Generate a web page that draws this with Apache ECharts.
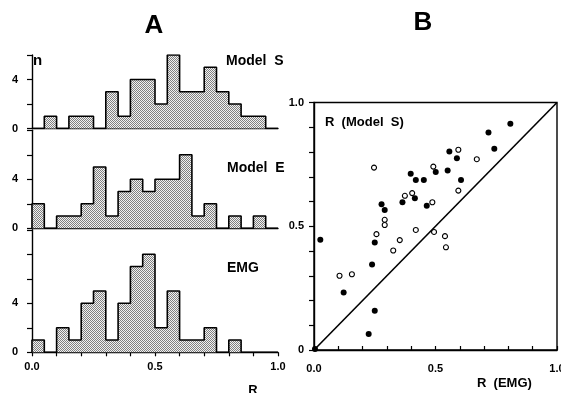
<!DOCTYPE html>
<html>
<head>
<meta charset="utf-8">
<script src="https://cdn.jsdelivr.net/npm/echarts@6/dist/echarts.min.js"></script>
<style>
html, body { margin: 0; padding: 0; background: #fff; }
#chart { width: 561px; height: 393px; }
</style>
</head>
<body>
<div id="chart"></div>
<script>
// histogram counts, bins of 0.05 from 0 to 1
const binWidth = 0.05
const countsModelS = [0, 1, 0, 1, 1, 0, 3, 1, 4, 4, 2, 6, 3, 3, 5, 3, 2, 1, 1, 0]
const countsModelE = [2, 0, 1, 1, 2, 5, 1, 3, 4, 3, 4, 4, 6, 1, 2, 0, 1, 0, 1, 0]
const countsEMG = [1, 0, 2, 1, 4, 5, 1, 4, 7, 8, 2, 5, 1, 1, 2, 0, 1, 0, 0, 0]

// R(EMG), R(Model S)
const filledPts = [
  [0.808, 0.914], [0.718, 0.879], [0.742, 0.813], [0.557, 0.802], [0.588, 0.775],
  [0.550, 0.725], [0.605, 0.687], [0.501, 0.719], [0.398, 0.712], [0.419, 0.687],
  [0.452, 0.687], [0.364, 0.597], [0.415, 0.613], [0.464, 0.583], [0.278, 0.589],
  [0.291, 0.566], [0.026, 0.445], [0.250, 0.434], [0.239, 0.345], [0.122, 0.232],
  [0.250, 0.159], [0.225, 0.065], [0.004, 0.004]
]
const openPts = [
  [0.247, 0.737], [0.594, 0.809], [0.670, 0.771], [0.491, 0.741], [0.594, 0.644],
  [0.374, 0.623], [0.404, 0.634], [0.487, 0.597], [0.291, 0.526], [0.291, 0.505],
  [0.419, 0.485], [0.257, 0.468], [0.494, 0.477], [0.539, 0.460], [0.353, 0.444],
  [0.326, 0.402], [0.543, 0.415], [0.105, 0.300], [0.156, 0.306]
]
const diagonal = [[0, 0], [1, 1]]

const FONT = 'Liberation Sans'

function stipple() {
  const c = document.createElement('canvas')
  c.width = 2
  c.height = 2
  const ctx = c.getContext('2d')
  ctx.fillStyle = '#f2f2f2'
  ctx.fillRect(0, 0, 2, 2)
  ctx.fillStyle = '#808080'
  ctx.fillRect(0, 0, 1, 1)
  ctx.fillRect(1, 1, 1, 1)
  return c
}
const pattern = { image: stipple(), repeat: 'repeat' }

// outline points for a step histogram
function stepData(counts) {
  const pts = [[0, 0]]
  counts.forEach((c, i) => pts.push([+(i * binWidth).toFixed(2), c]))
  pts.push([1, counts[counts.length - 1]])
  pts.push([1, 0])
  return pts
}

function histYAxis(idx, max) {
  return {
    type: 'value', gridIndex: idx, min: 0, max: max, interval: 2,
    axisLine: { show: true, lineStyle: { color: '#000', width: 1.4 } },
    axisTick: { show: true, length: 5, lineStyle: { color: '#000', width: 1.2 } },
    splitLine: { show: false },
    axisLabel: {
      margin: 14, color: '#000', fontFamily: FONT, fontWeight: 'bold', fontSize: 11,
      formatter: v => (v === 0 || v === 4) ? String(v) : ''
    }
  }
}

const rLabel = v => v === 0 ? '0.0' : (Math.abs(v - 0.5) < 1e-6 ? '0.5' : (v === 1 ? '1.0' : ''))

function histXAxis(idx, bottom) {
  return {
    type: 'value', gridIndex: idx, min: 0, max: 1, interval: 0.1,
    axisLine: { show: true, onZero: false, lineStyle: { color: '#000', width: 1.4 } },
    axisTick: { show: bottom, length: 4, lineStyle: { color: '#000', width: 1.2 } },
    splitLine: { show: false },
    axisLabel: {
      show: bottom, margin: 9, color: '#000', fontFamily: FONT, fontWeight: 'bold', fontSize: 11,
      formatter: rLabel
    }
  }
}

function histSeries(idx, counts) {
  return {
    type: 'line', xAxisIndex: idx, yAxisIndex: idx, step: 'end',
    symbol: 'none', silent: true,
    lineStyle: { color: '#000', width: 1.6 },
    areaStyle: { color: pattern, opacity: 1 },
    data: stepData(counts)
  }
}

const chart = echarts.init(document.getElementById('chart'))

const label = (text, x, y, size, align) => ({
  type: 'text', x: x, y: y,
  style: {
    text: text, fill: '#000', font: 'bold ' + size + 'px "' + FONT + '"',
    align: align || 'left', verticalAlign: 'middle'
  }
})

const gridBase = { outerBoundsMode: 'none', containLabel: false }

chart.setOption({
  animation: false,
  backgroundColor: '#fff',
  grid: [
    Object.assign({ left: 32, width: 246, top: 55, height: 73.5 }, gridBase),
    Object.assign({ left: 32, width: 246, top: 130.3, height: 98 }, gridBase),
    Object.assign({ left: 32, width: 246, top: 229.8, height: 122.5 }, gridBase),
    Object.assign({ left: 314, width: 243, top: 102.5, height: 247.5, show: true, borderColor: '#000', borderWidth: 1.4, backgroundColor: 'transparent' }, gridBase)
  ],
  xAxis: [
    histXAxis(0, false),
    histXAxis(1, false),
    histXAxis(2, true),
    {
      type: 'value', gridIndex: 3, min: 0, max: 1, interval: 0.1,
      axisLine: { show: true, lineStyle: { color: '#000', width: 1.4 } },
      axisTick: { show: true, inside: true, length: 4, lineStyle: { color: '#000', width: 1.2 } },
      splitLine: { show: false },
      axisLabel: {
        margin: 13, color: '#000', fontFamily: FONT, fontWeight: 'bold', fontSize: 11,
        formatter: rLabel
      }
    }
  ],
  yAxis: [
    histYAxis(0, 6),
    histYAxis(1, 8),
    histYAxis(2, 10),
    {
      type: 'value', gridIndex: 3, min: 0, max: 1, interval: 0.1,
      axisLine: { show: true, lineStyle: { color: '#000', width: 1.4 } },
      axisTick: { show: true, length: 5, lineStyle: { color: '#000', width: 1.2 } },
      splitLine: { show: false },
      axisLabel: {
        margin: 10, color: '#000', fontFamily: FONT, fontWeight: 'bold', fontSize: 11,
        formatter: v => v === 0 ? '0' : (Math.abs(v - 0.5) < 1e-6 ? '0.5' : (v === 1 ? '1.0' : ''))
      }
    }
  ],
  series: [
    histSeries(0, countsModelS),
    histSeries(1, countsModelE),
    histSeries(2, countsEMG),
    {
      type: 'line', xAxisIndex: 3, yAxisIndex: 3, symbol: 'none', silent: true,
      lineStyle: { color: '#000', width: 1.6 },
      data: diagonal
    },
    {
      type: 'scatter', xAxisIndex: 3, yAxisIndex: 3, symbolSize: 5,
      itemStyle: { color: '#fff', borderColor: '#000', borderWidth: 1.1, opacity: 1 },
      data: openPts
    },
    {
      type: 'scatter', xAxisIndex: 3, yAxisIndex: 3, symbolSize: 6,
      itemStyle: { color: '#000', opacity: 1 },
      data: filledPts
    }
  ],
  graphic: [
    label('A', 154, 26, 26, 'center'),
    label('B', 423, 23, 26, 'center'),
    label('n', 33, 61, 15),
    label('Model  S', 226, 61, 14),
    label('Model  E', 227, 168, 14),
    label('EMG', 227, 268, 14),
    label('R', 253, 390, 13, 'center'),
    label('R  (Model  S)', 325, 122, 13),
    label('R  (EMG)', 477, 383, 13)
  ]
})
</script>
</body>
</html>
